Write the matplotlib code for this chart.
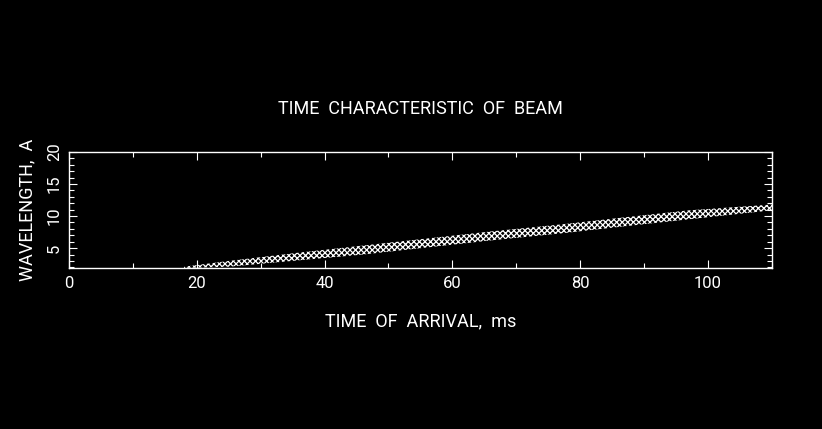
import matplotlib
matplotlib.use("Agg")
import matplotlib.pyplot as plt
from matplotlib.ticker import MultipleLocator

# ── data: edges of the arrival band ───────────────────────────────────────────
TIME_MS = [18, 25, 36, 46, 56, 66, 77, 86, 97, 110]
LAMBDA_LOW = [1.9, 2.1, 3.1, 4.0, 5.1, 6.2, 7.3, 8.3, 9.5, 10.9]
LAMBDA_HIGH = [2.1, 3.0, 4.3, 5.4, 6.5, 7.6, 8.7, 9.7, 10.9, 11.8]

X_TICKS = [0, 20, 40, 60, 80, 100]
Y_TICKS = [5, 10, 15, 20]

FG = "white"
BG = "black"

plt.rcParams["font.family"] = ["Roboto", "DejaVu Sans"]
plt.rcParams["font.weight"] = "light"
plt.rcParams["hatch.color"] = FG
plt.rcParams["hatch.linewidth"] = 0.9

fig = plt.figure(figsize=(8.22, 4.29), dpi=100, facecolor=BG)
ax = fig.add_axes([0.0839, 0.3753, 0.8552, 0.2704], facecolor=BG)

# speckled arrival band
ax.fill_between(TIME_MS, LAMBDA_LOW, LAMBDA_HIGH, facecolor=BG,
                edgecolor=FG, hatch="xxxxxx", linewidth=0)

ax.set_xlim(0, 110)
ax.set_ylim(1.9, 20)
ax.set_xticks(X_TICKS)
ax.set_yticks(Y_TICKS)
ax.xaxis.set_minor_locator(MultipleLocator(10))
ax.yaxis.set_minor_locator(MultipleLocator(1))

for s in ax.spines.values():
    s.set_color(FG)
    s.set_linewidth(1)

ax.tick_params(which="both", direction="in", top=True, right=True,
               colors=FG, width=0.8)
ax.tick_params(which="major", length=6)
ax.tick_params(which="minor", length=3.5)
ax.tick_params(axis="x", labelsize=12, pad=6)
ax.tick_params(axis="y", labelsize=12, pad=5, labelrotation=90)
for lab in ax.get_xticklabels() + ax.get_yticklabels():
    lab.set_fontweight("normal")
for lab in ax.get_yticklabels():
    lab.set_va("center")

ax.set_title("TIME  CHARACTERISTIC  OF  BEAM", color=FG, fontsize=13, pad=27)
ax.set_xlabel("TIME  OF  ARRIVAL,  ms", color=FG, fontsize=13, labelpad=15)
ax.set_ylabel("WAVELENGTH,  A", color=FG, fontsize=13, labelpad=8)

fig.savefig("out.png", dpi=100, facecolor=BG)
